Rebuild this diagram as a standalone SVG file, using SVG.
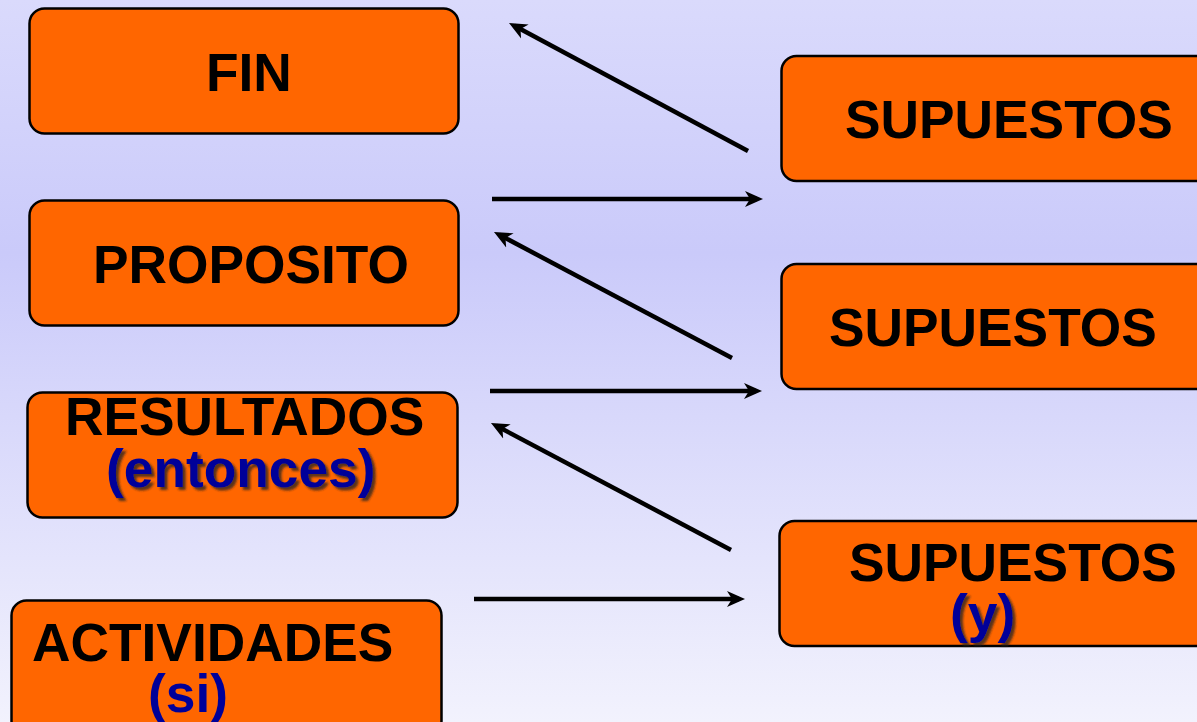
<svg xmlns="http://www.w3.org/2000/svg" width="1197" height="722" viewBox="0 0 1197 722">
<defs>
<linearGradient id="bg" x1="0" y1="0" x2="0" y2="1">
<stop offset="0" stop-color="#dadafc"/>
<stop offset="0.35" stop-color="#cacafa"/>
<stop offset="1" stop-color="#f2f2fd"/>
</linearGradient>
<marker id="ah" markerUnits="userSpaceOnUse" markerWidth="20" markerHeight="18" refX="12" refY="8" orient="auto" viewBox="0 0 20 16">
<path d="M0,0 L18,8 L0,16 L5,8 Z" fill="#000"/>
</marker>
<filter id="sh" x="-10%" y="-20%" width="130%" height="150%">
<feDropShadow dx="3" dy="3" stdDeviation="1" flood-color="#222" flood-opacity="0.75"/>
</filter>
</defs>
<style>
.box{fill:#ff6600;stroke:#000;stroke-width:2.5}
.t{font-family:"Liberation Sans",Arial,sans-serif;font-weight:bold;font-size:53.3px;fill:#000}
.b{fill:#000099}
.c line{stroke:#000;stroke-width:4.5;marker-end:url(#ah)}
</style>
<rect width="1197" height="722" fill="url(#bg)"/>
<g id="fin"><rect class="box" x="29.5" y="8.5" width="429" height="125" rx="15"/><text class="t" x="206" y="91">FIN</text></g>
<g id="proposito"><rect class="box" x="29.5" y="200.5" width="429" height="125" rx="15"/><text class="t" x="93" y="283">PROPOSITO</text></g>
<g id="resultados"><rect class="box" x="27.5" y="392.5" width="430" height="125" rx="15"/><text class="t" x="65" y="435">RESULTADOS</text><text class="t b" x="106" y="487" filter="url(#sh)">(entonces)</text></g>
<g id="actividades"><rect class="box" x="11.5" y="600.5" width="430" height="135" rx="15"/><text class="t" x="32" y="661">ACTIVIDADES</text><text class="t b" x="148" y="712">(si)</text></g>
<g id="supuestos1"><rect class="box" x="781.5" y="56" width="440" height="125" rx="15"/><text class="t" x="845" y="138">SUPUESTOS</text></g>
<g id="supuestos2"><rect class="box" x="781.5" y="264" width="440" height="125" rx="15"/><text class="t" x="829" y="346">SUPUESTOS</text></g>
<g id="supuestos3"><rect class="box" x="779.5" y="521" width="440" height="125" rx="15"/><text class="t" x="849" y="581">SUPUESTOS</text><text class="t b" x="950" y="632" filter="url(#sh)">(y)</text></g>
<g id="connectors" class="c">
<line x1="748" y1="151" x2="514.3" y2="25.8"/>
<line x1="492" y1="199" x2="757" y2="199"/>
<line x1="732" y1="358" x2="499.3" y2="234.8"/>
<line x1="490" y1="391" x2="756" y2="391"/>
<line x1="731" y1="550" x2="496.3" y2="425.8"/>
<line x1="474" y1="599" x2="739" y2="599"/>
</g>
</svg>
